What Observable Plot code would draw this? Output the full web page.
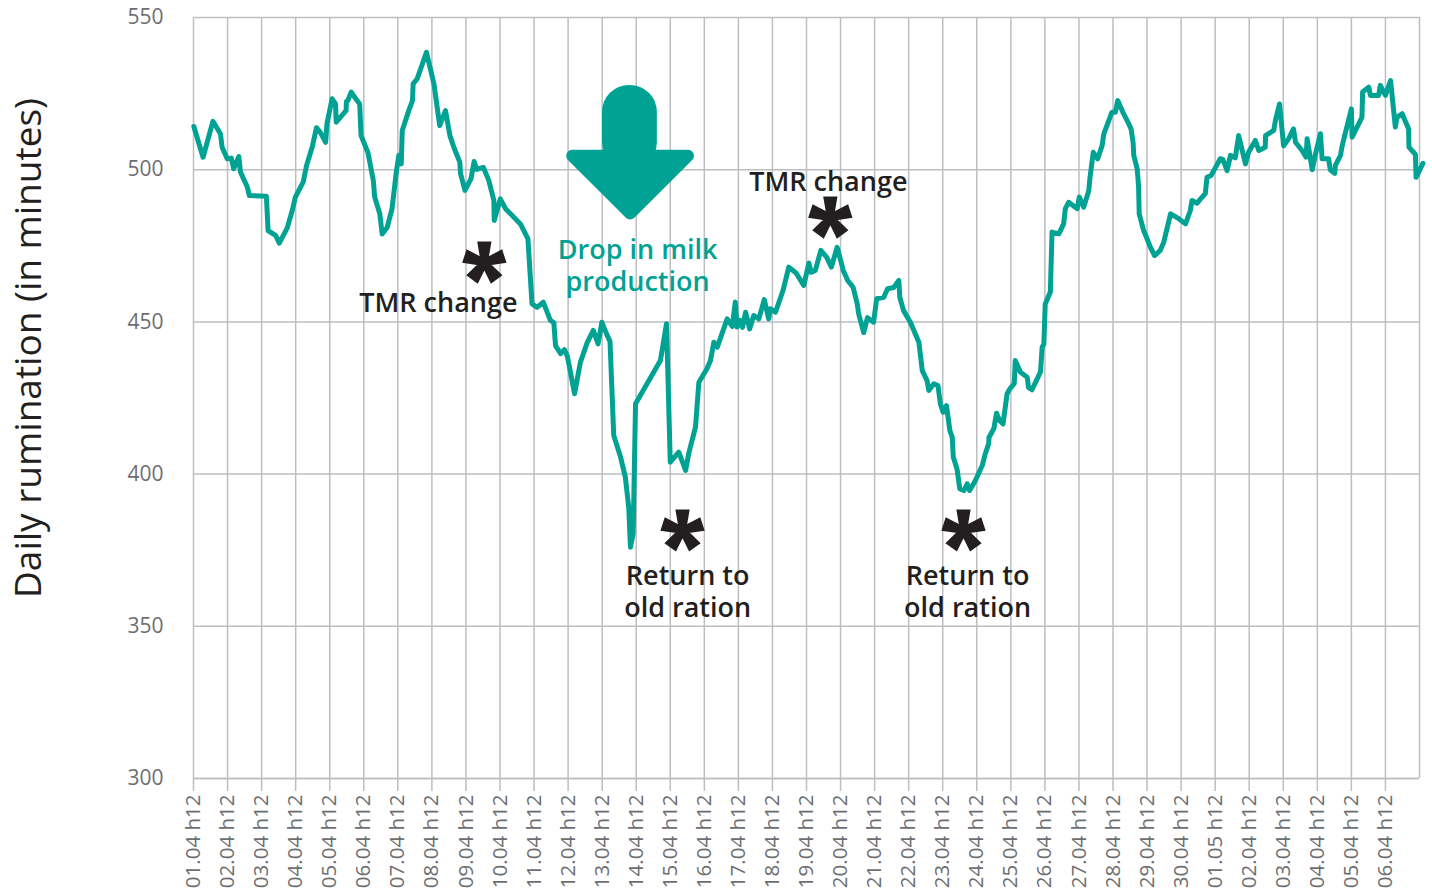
<!DOCTYPE html>
<html><head><meta charset="utf-8">
<script src="https://cdn.jsdelivr.net/npm/d3@7"></script>
<script src="https://cdn.jsdelivr.net/npm/@observablehq/plot@0.6"></script>
<style>
html,body{margin:0;padding:0;background:#fff;}
</style>
</head><body><div id="chart"></div>
<script>
// Tick labels (category axis, one per day at noon)
const dayLabels = ["01.04 h12","02.04 h12","03.04 h12","04.04 h12","05.04 h12","06.04 h12","07.04 h12","08.04 h12","09.04 h12","10.04 h12","11.04 h12","12.04 h12","13.04 h12","14.04 h12","15.04 h12","16.04 h12","17.04 h12","18.04 h12","19.04 h12","20.04 h12","21.04 h12","22.04 h12","23.04 h12","24.04 h12","25.04 h12","26.04 h12","27.04 h12","28.04 h12","29.04 h12","30.04 h12","01.05 h12","02.04 h12","03.04 h12","04.04 h12","05.04 h12","06.04 h12"];
const tickDays = dayLabels.map((_, i) => i);
const gridDays = [...tickDays, dayLabels.length];
const yTicks = [300, 350, 400, 450, 500, 550];

// Series: day offset from 01.04 h12, daily rumination (minutes)
const days = [0.01,0.28,0.57,0.79,0.84,0.99,1.11,1.18,1.33,1.38,1.58,1.64,2.14,2.19,2.41,2.52,2.75,2.90,2.99,3.22,3.32,3.49,3.61,3.73,3.88,3.92,4.07,4.17,4.19,4.48,4.49,4.53,4.63,4.76,4.88,4.92,5.12,5.28,5.32,5.47,5.54,5.69,5.83,5.96,6.03,6.10,6.13,6.32,6.43,6.45,6.57,6.84,7.06,7.23,7.40,7.53,7.66,7.82,7.84,7.97,8.15,8.24,8.32,8.51,8.67,8.82,8.83,9.01,9.16,9.60,9.82,9.94,10.09,10.27,10.48,10.58,10.63,10.78,10.89,10.98,11.19,11.36,11.56,11.74,11.88,11.99,12.15,12.23,12.34,12.54,12.68,12.78,12.83,12.91,12.98,13.71,13.89,14.00,14.25,14.45,14.54,14.74,14.84,15.08,15.18,15.28,15.38,15.67,15.82,15.91,15.96,16.06,16.12,16.21,16.33,16.45,16.60,16.76,16.89,16.94,17.09,17.31,17.48,17.70,17.92,18.07,18.14,18.26,18.42,18.59,18.73,18.90,19.08,19.21,19.29,19.37,19.49,19.53,19.68,19.79,19.97,20.06,20.27,20.38,20.56,20.71,20.74,20.85,21.05,21.30,21.40,21.54,21.59,21.74,21.86,21.93,22.01,22.11,22.21,22.28,22.31,22.42,22.50,22.62,22.72,22.79,22.96,23.16,23.25,23.35,23.36,23.50,23.58,23.67,23.77,23.89,23.97,24.10,24.13,24.28,24.48,24.52,24.62,24.75,24.82,24.87,24.92,24.97,25.01,25.16,25.21,25.41,25.55,25.60,25.70,25.95,26.01,26.14,26.29,26.32,26.42,26.55,26.68,26.73,26.97,27.07,27.14,27.31,27.46,27.53,27.59,27.61,27.71,27.75,27.77,27.90,28.00,28.10,28.22,28.39,28.49,28.69,28.93,29.13,29.27,29.32,29.47,29.57,29.71,29.76,29.88,29.96,30.15,30.23,30.35,30.45,30.59,30.69,30.89,30.98,31.18,31.28,31.47,31.48,31.72,31.77,31.89,32.01,32.16,32.30,32.36,32.55,32.67,32.70,32.85,32.97,33.09,33.14,33.33,33.38,33.51,33.53,33.68,33.73,34.00,34.02,34.31,34.33,34.51,34.56,34.80,34.85,35.00,35.15,35.29,35.34,35.49,35.68,35.69,35.88,35.90,36.10];
const rumination = [514.2,504.1,515.9,511.8,507.4,503.6,503.8,500.3,504.3,499.2,494.3,491.5,491.3,480.0,478.4,475.9,480.8,486.6,491.0,495.9,501.4,507.6,513.8,512.2,509.0,515.2,523.3,521.6,515.6,519.4,522.4,522.7,525.5,523.4,521.6,511.2,505.7,496.5,491.0,485.5,478.9,481.1,487.2,499.7,504.7,501.9,512.9,519.4,522.7,528.2,529.9,538.6,528.2,514.5,519.4,511.2,506.9,502.5,498.8,493.2,497.1,502.7,500.1,500.8,496.5,489.9,483.3,490.4,487.2,482.2,477.3,455.9,454.8,456.5,450.5,449.8,442.2,439.6,440.9,438.6,426.4,436.7,443.2,447.2,442.8,449.9,445.5,443.6,412.7,405.6,399.0,389.1,376.0,380.4,423.1,437.3,449.4,403.9,407.2,401.2,406.7,415.4,430.2,434.7,437.3,443.3,441.7,451.0,448.5,456.5,448.3,450.5,448.2,453.2,447.7,452.1,451.0,457.3,451.0,454.3,453.2,460.3,468.0,466.0,462.0,469.3,466.3,466.9,473.5,471.3,468.0,474.5,466.9,463.6,462.5,461.3,455.9,452.7,446.5,451.4,449.9,457.6,458.1,460.9,461.3,463.6,458.1,453.7,449.9,443.3,434.0,430.7,427.5,429.7,429.1,423.1,420.3,422.5,414.3,412.1,405.6,401.7,395.2,394.6,396.8,394.6,397.9,402.8,406.7,410.0,412.1,414.9,420.0,417.6,416.5,426.4,428.0,429.7,437.3,433.5,431.8,428.5,427.7,430.7,432.4,433.5,441.7,442.8,455.9,459.8,479.5,478.9,482.2,487.2,489.3,487.2,491.0,487.7,493.2,497.0,505.7,503.6,507.9,511.8,518.9,518.9,522.7,518.4,515.1,513.4,509.0,504.7,500.3,494.8,485.5,480.0,477.3,474.5,471.8,473.5,476.2,485.5,483.9,482.2,486.6,489.9,489.0,490.4,492.1,497.5,498.1,499.7,503.6,503.3,499.7,504.7,503.9,511.2,501.9,505.7,509.6,506.3,507.4,511.2,512.9,516.2,521.6,507.9,510.2,513.4,509.0,506.3,504.1,510.2,500.0,506.3,511.8,503.6,503.6,500.0,498.8,501.4,504.7,507.9,520.0,510.7,517.2,525.5,527.1,524.4,524.4,527.7,524.4,529.3,514.0,517.2,518.4,513.4,507.4,505.0,497.5,502.1];

// Annotations
const noteTexts = ["TMR change", "TMR change", "Return to\nold ration", "Return to\nold ration"];
const noteDays = [7.19, 18.64, 14.51, 22.73];
const noteValues = [456.7, 496.5, 361.6, 361.6];
const starDays = [8.54, 18.70, 14.36, 22.61];
const starValues = [469.5, 484.3, 381.5, 381.5];
const dropText = ["Drop in milk\nproduction"];
const dropDay = [13.04];
const dropValue = [468.9];
// Arrow (in data units)
const arrowShaftDays = [12.01, 13.62];
const arrowShaftValues = [500, 527.7];
const arrowHeadDays = [11.12, 12.82, 14.52, 11.12];
const arrowHeadValues = [504.6, 485.6, 504.6, 504.6];

const teal = "#00a294";
const grid = "#bcbec0";
const ink = "#231f20";
const series = days.map((d, i) => ({day: d, value: rumination[i]}));
const notes = noteTexts.map((t, i) => ({text: t, day: noteDays[i], value: noteValues[i]}));
const stars = starDays.map((d, i) => ({day: d, value: starValues[i]}));
const drop = dropText.map((t, i) => ({text: t, day: dropDay[i], value: dropValue[i]}));
const shaft = [{x1: arrowShaftDays[0], x2: arrowShaftDays[1], y1: arrowShaftValues[0], y2: arrowShaftValues[1]}];
const head = arrowHeadDays.map((d, i) => ({day: d, value: arrowHeadValues[i]}));

// Five-spoke bold asterisk symbol
const asterisk5 = {
  draw(context, size) {
    const R = Math.sqrt(size / Math.PI);
    const w0 = 0.17 * R, w1 = 0.34 * R;
    for (let k = 0; k < 5; ++k) {
      const a = -Math.PI / 2 + k * 2 * Math.PI / 5;
      const ux = Math.cos(a), uy = Math.sin(a), vx = -uy, vy = ux;
      context.moveTo(-w0 * vx, -w0 * vy);
      context.lineTo(R * ux - w1 * vx, R * uy - w1 * vy);
      context.lineTo(R * ux + w1 * vx, R * uy + w1 * vy);
      context.lineTo(w0 * vx, w0 * vy);
      context.closePath();
    }
  }
};

const chart = Plot.plot({
  width: 1432,
  height: 896,
  marginLeft: 193,
  marginRight: 13,
  marginTop: 17,
  marginBottom: 118,
  style: {fontFamily: "'Open Sans', sans-serif", fontSize: "20px", color: "#6d6e71", background: "#fff", overflow: "visible"},
  x: {domain: [0, 36]},
  y: {domain: [300, 550]},
  marks: [
    Plot.gridY(yTicks, {stroke: grid, strokeOpacity: 1, strokeWidth: 1.5}),
    Plot.gridX(gridDays, {stroke: grid, strokeOpacity: 1, strokeWidth: 1.5}),
    Plot.axisY(yTicks, {tickSize: 0, tickPadding: 30, fontSize: 21, label: null}),
    Plot.axisX(tickDays, {tickFormat: (d) => dayLabels[d], tickRotate: -90, tickSize: 13, tickPadding: 3, stroke: grid, strokeWidth: 1.5, fontSize: 20.5, label: null}),
    Plot.ruleY([300], {stroke: grid, strokeWidth: 1.5}),
    Plot.line(series, {x: "day", y: "value", stroke: teal, strokeWidth: 5, strokeLinejoin: "round", clip: false}),
    Plot.rect(shaft, {x1: "x1", x2: "x2", y1: "y1", y2: "y2", fill: teal, rx: 27}),
    Plot.line(head, {x: "day", y: "value", fill: teal, stroke: teal, strokeWidth: 12, strokeLinejoin: "round"}),
    Plot.text(drop, {x: "day", y: "value", text: "text", fill: teal, fontSize: 27, fontWeight: 600, lineHeight: 1.18}),
    Plot.text(notes, {x: "day", y: "value", text: "text", fill: ink, fontSize: 27, fontWeight: 600, lineHeight: 1.18}),
    Plot.dot(stars, {x: "day", y: "value", symbol: asterisk5, r: 21, fill: ink, stroke: "none"}),
    Plot.text(["Daily rumination (in minutes)"], {frameAnchor: "left", textAnchor: "middle", text: (d) => d, rotate: -90, dx: -164, dy: -50, fill: ink, fontSize: 37, fontFamily: "'Open Sans', sans-serif"})
  ]
});
document.getElementById("chart").appendChild(chart);
</script>
</body></html>
